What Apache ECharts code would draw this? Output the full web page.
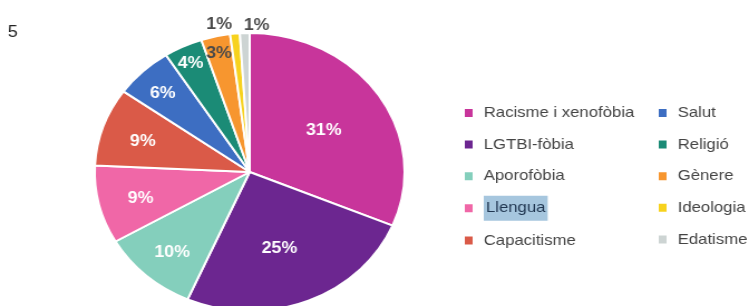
<!DOCTYPE html>
<html>
<head>
<meta charset="utf-8">
<title>Pie</title>
<script src="https://cdn.jsdelivr.net/npm/echarts@6/dist/echarts.min.js"></script>
<style>
    html, body { margin: 0; padding: 0; background: #fff; overflow: hidden; }
    /* the source picture is stretched sideways, so the chart is drawn narrow and widened */
    #main { width: 672px; height: 306px; transform: scaleX(1.1146); transform-origin: 0 0; }
</style>
</head>
<body>
<div id="main"></div>
<script>
var categories = ['Racisme i xenofòbia', 'LGTBI-fòbia', 'Aporofòbia', 'Llengua', 'Capacitisme',
                  'Salut', 'Religió', 'Gènere', 'Ideologia', 'Edatisme'];
var percents = [31, 25, 10, 9, 9, 6, 4, 3, 1, 1];

var colors = ['#c8359b', '#6c2690', '#84cfbc', '#f067a7', '#da5a48',
              '#3d6ec2', '#1b8b76', '#f7962f', '#f7d21d', '#cdd4d3'];
// where each % label sits (share of radius) and a small sideways nudge
var labelReach = [0.55, 0.55, 0.72, 0.695, 0.70, 0.78, 0.85, 0.86, 1.045, 1.03];
var labelNudge = [0, -3, 0, 0, 0, 0, 0, 0, -13, 11];
var labelDrop = 3;
var pieCenter = [224, 172];
var pieRadius = 139;
var font = '"Liberation Sans", Arial, sans-serif';

var legendBase = {
    orient: 'vertical',
    top: 96,
    icon: 'rect',
    itemWidth: 9,
    itemHeight: 10,
    itemGap: 7.6,
    selectedMode: false,
    formatter: function(name) {
        return name === 'Llengua' ? '{hl|' + name + '}' : name;
    },
    textStyle: {
        fontFamily: font, fontSize: 15, color: '#444', lineHeight: 24, padding: [0, 0, 0, 4],
        rich: {
            hl: {fontFamily: font, fontSize: 15, lineHeight: 24, color: '#1f3550',
                 backgroundColor: '#a6c6de', padding: [5, 2]}
        }
    }
};

var option = {
    animation: false,
    color: colors,
    title: {text: '5', left: 7, top: 25, padding: 0,
            textStyle: {fontFamily: font, fontSize: 16, fontWeight: 'normal', color: '#222'}},
    legend: [
        Object.assign({}, legendBase, {left: 410, data: categories.slice(0, 5)}),
        Object.assign({}, legendBase, {left: 584, data: categories.slice(5)})
    ],
    series: [
        {
            type: 'pie',
            center: pieCenter,
            radius: pieRadius,
            startAngle: 90,
            clockwise: true,
            silent: true,
            itemStyle: {borderColor: '#fff', borderWidth: 2},
            label: {
                position: 'inside',
                formatter: '{c}%',
                color: '#fff',
                fontFamily: font,
                fontSize: 16,
                fontWeight: 'bold'
            },
            labelLine: {show: false},
            labelLayout: function(p) {
                var i = p.dataIndex, r = p.labelRect;
                var lx = r.x + r.width / 2, ly = r.y + r.height / 2;
                var k = labelReach[i] * 2;
                return {
                    x: pieCenter[0] + (lx - pieCenter[0]) * k + labelNudge[i],
                    y: pieCenter[1] + (ly - pieCenter[1]) * k + labelDrop,
                    align: 'center',
                    verticalAlign: 'middle'
                };
            },
            data: categories.map(function(name, i) {
                var item = {name: name, value: percents[i]};
                if (i >= 7) item.label = {color: '#4a4a4a'};
                return item;
            })
        }
    ]
};

echarts.init(document.getElementById('main')).setOption(option);
</script>
</body>
</html>
